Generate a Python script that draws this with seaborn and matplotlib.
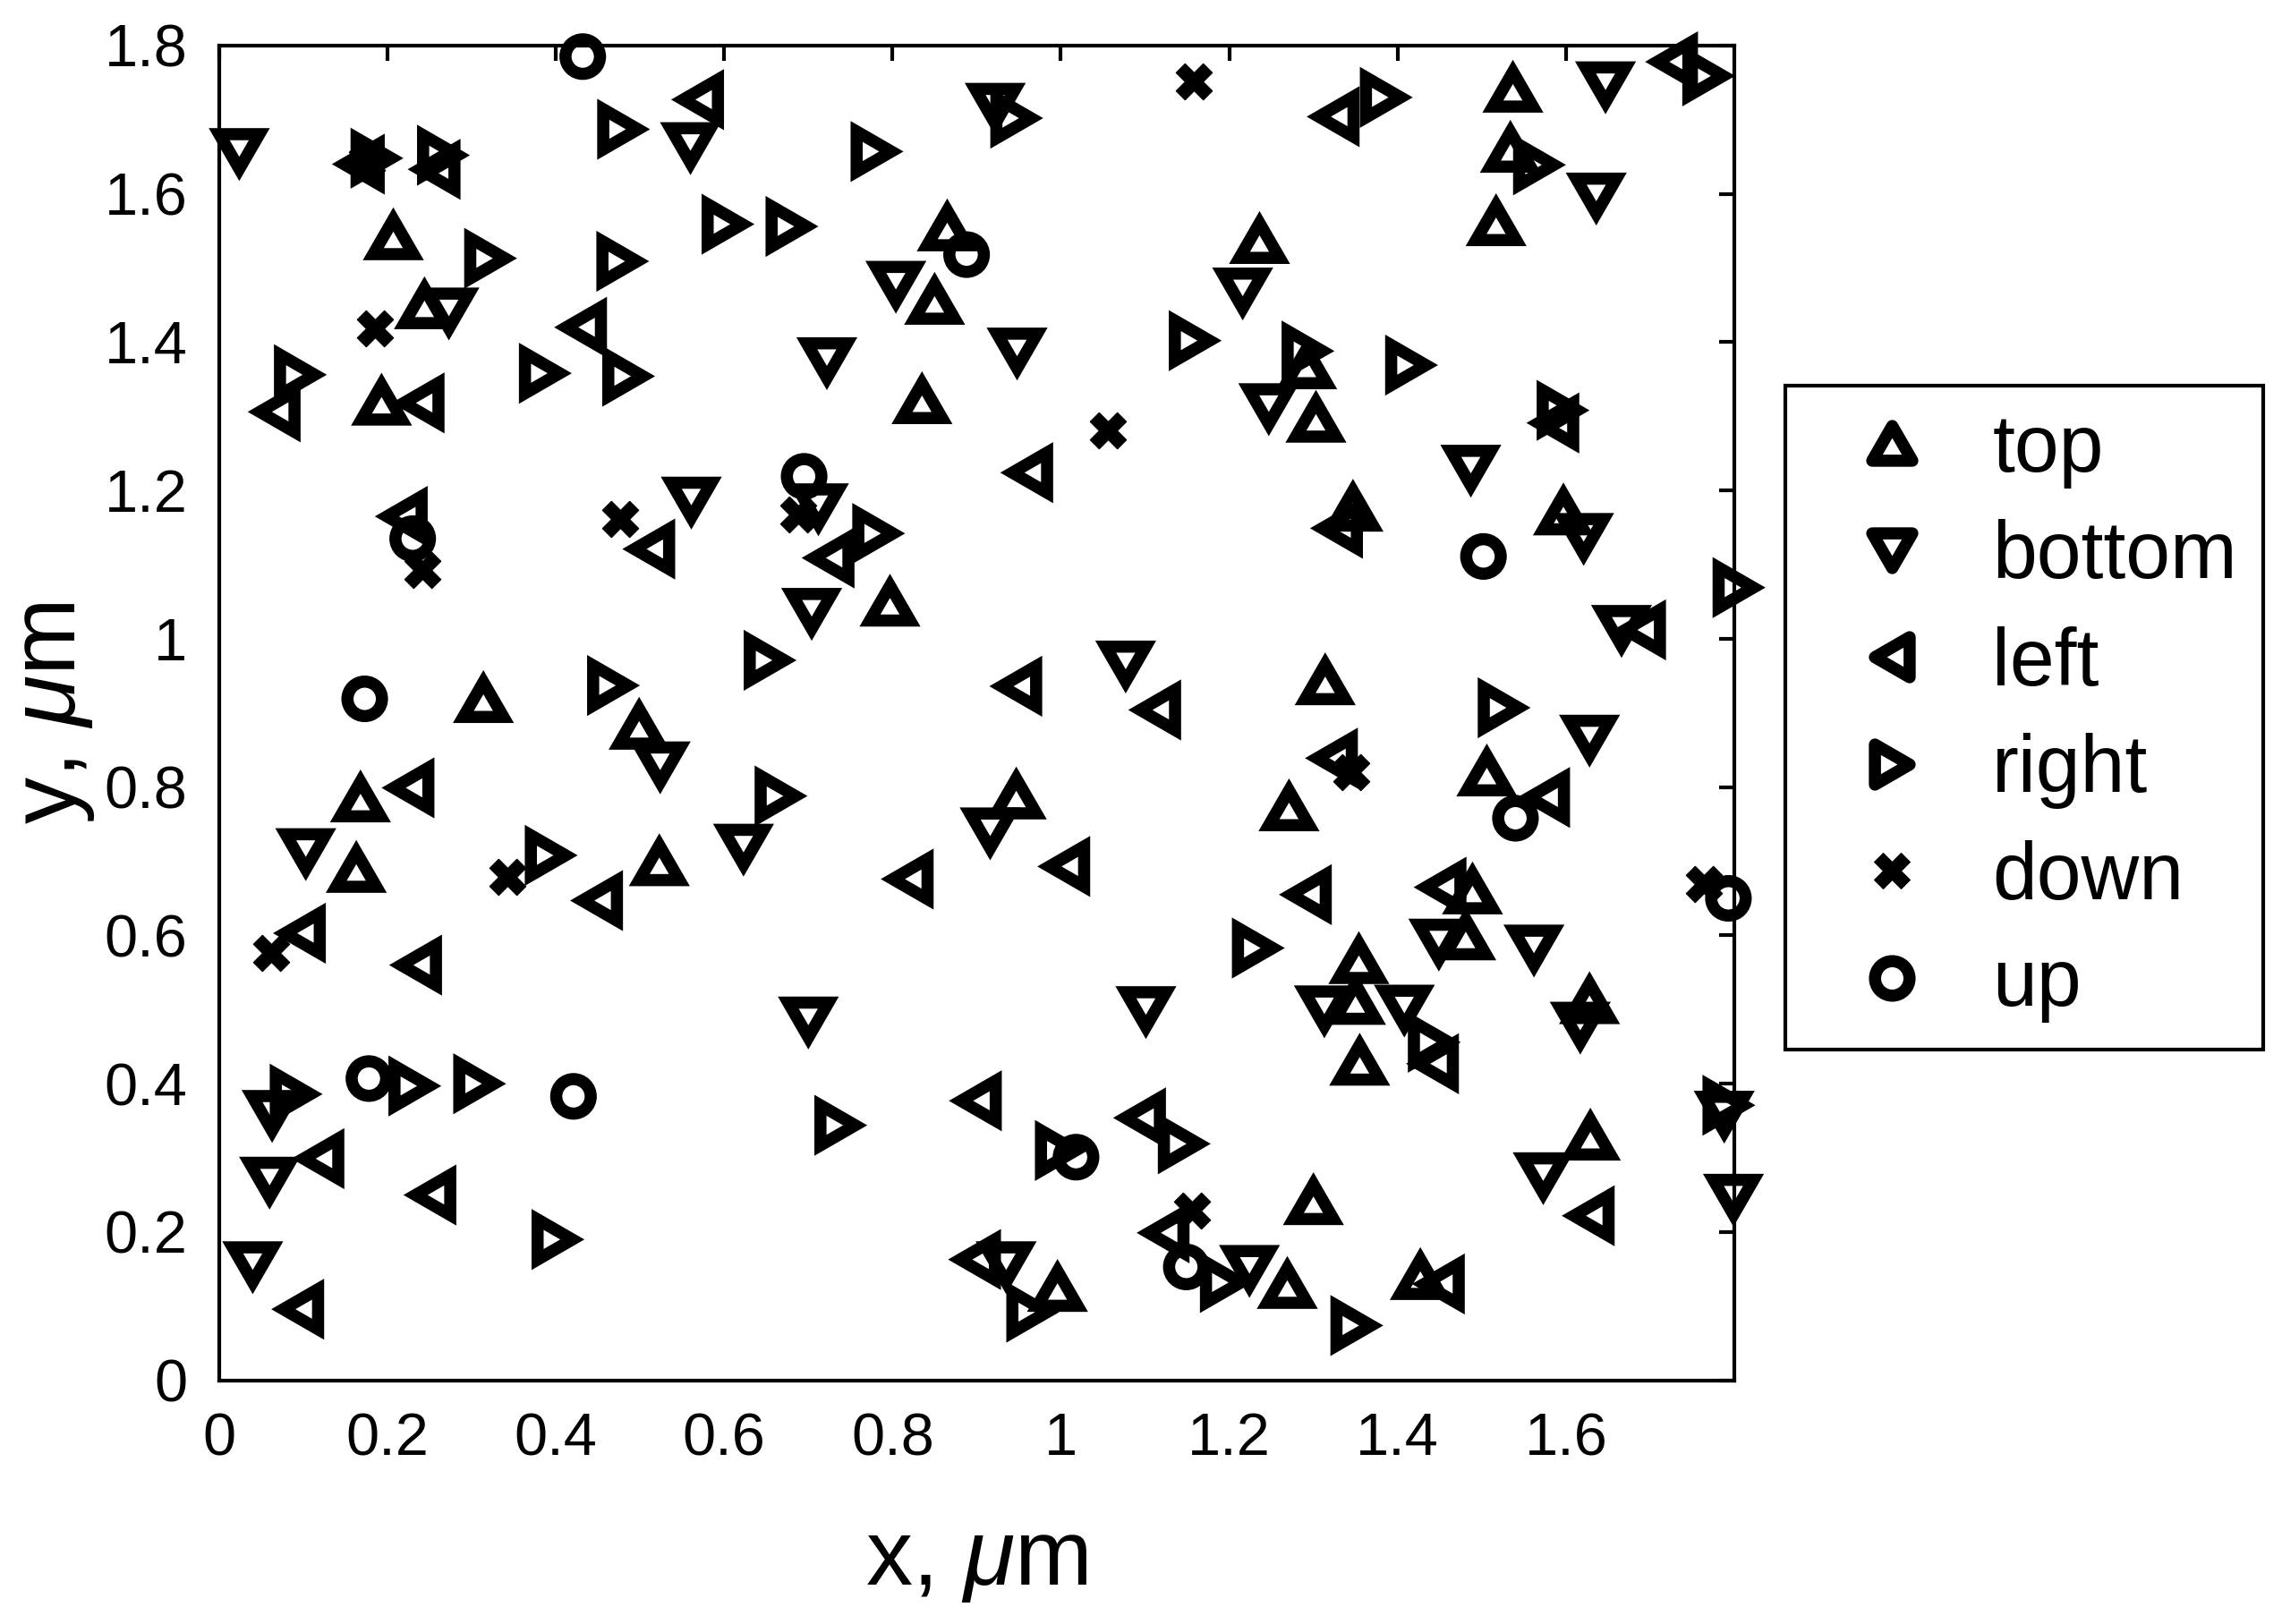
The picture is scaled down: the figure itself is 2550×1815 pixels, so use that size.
import matplotlib
matplotlib.use("Agg")
import matplotlib.pyplot as plt
import numpy as np
import seaborn as sns
from matplotlib.lines import Line2D
from matplotlib.markers import MarkerStyle
from matplotlib.path import Path

# marker positions (um)
top_x = [0.207, 0.244, 0.193, 0.865, 0.850, 0.835, 1.537, 1.534, 1.517, 1.236, 1.292, 1.303,
         0.314, 0.499, 0.168, 0.163, 0.523, 0.797, 0.947, 1.347, 1.597, 1.314, 1.506, 1.271,
         1.489, 1.481, 1.354, 1.350, 1.355, 1.628, 1.629, 1.300, 1.269, 1.427, 0.996]
top_y = [1.542, 1.449, 1.319, 1.554, 1.455, 1.321, 1.741, 1.660, 1.561, 1.537, 1.368, 1.296,
         0.918, 0.882, 0.784, 0.689, 0.698, 1.048, 0.788, 1.176, 1.171, 0.942, 0.819, 0.772,
         0.660, 0.598, 0.566, 0.511, 0.429, 0.512, 0.328, 0.241, 0.128, 0.140, 0.124]

bottom_x = [0.560, 0.024, 0.273, 0.922, 0.804, 0.948, 0.722, 1.647, 1.636, 1.216, 1.247, 1.487,
            0.561, 0.524, 0.103, 0.623, 0.712, 0.704, 1.077, 0.916, 1.621, 1.666, 1.628, 1.449,
            1.562, 1.313, 1.408, 1.617, 1.788, 1.573, 1.799, 1.224, 0.063, 0.060, 0.040, 0.700,
            1.101, 0.935]
bottom_y = [1.665, 1.657, 1.442, 1.718, 1.478, 1.388, 1.375, 1.747, 1.597, 1.469, 1.313, 1.230,
            1.187, 0.830, 0.713, 0.719, 1.178, 1.037, 0.966, 0.741, 1.138, 1.014, 0.866, 0.591,
            0.583, 0.501, 0.502, 0.479, 0.359, 0.276, 0.247, 0.151, 0.360, 0.270, 0.156, 0.486,
            0.500, 0.156]

left_x = [0.572, 0.169, 0.259, 0.433, 0.069, 0.240, 0.963, 1.327, 1.729, 1.588, 0.220, 0.514,
          0.228, 0.452, 0.727, 0.950, 1.115, 0.821, 1.007, 1.331, 1.691, 1.325, 1.577, 1.294,
          1.454, 1.445, 1.630, 1.452, 0.099, 0.237, 0.121, 0.254, 0.097, 0.902, 1.097, 1.125,
          0.901]
left_y = [1.727, 1.640, 1.633, 1.420, 1.306, 1.318, 1.224, 1.704, 1.778, 1.291, 1.165, 1.121,
          0.799, 0.647, 1.109, 0.936, 0.904, 0.676, 0.693, 1.149, 1.012, 0.839, 0.786, 0.655,
          0.665, 0.427, 0.222, 0.130, 0.603, 0.560, 0.299, 0.250, 0.096, 0.377, 0.354, 0.199,
          0.163]

right_x = [0.477, 0.184, 0.263, 0.319, 0.476, 0.601, 0.384, 0.483, 0.093, 0.944, 0.778, 0.677,
           1.156, 1.383, 1.766, 1.565, 1.290, 1.413, 1.593, 0.465, 0.391, 0.780, 0.651, 0.664,
           1.802, 1.523, 1.231, 1.440, 1.790, 1.348, 0.088, 0.229, 0.306, 0.399, 0.735, 0.997,
           1.143, 1.193, 0.963]
right_y = [1.687, 1.648, 1.652, 1.513, 1.509, 1.559, 1.358, 1.354, 1.356, 1.702, 1.657, 1.556,
           1.402, 1.730, 1.759, 1.639, 1.388, 1.369, 1.308, 0.937, 0.708, 1.142, 0.971, 0.788,
           1.069, 0.907, 0.583, 0.456, 0.371, 0.074, 0.386, 0.397, 0.400, 0.190, 0.344, 0.310,
           0.319, 0.132, 0.092]

down_x = [0.176, 0.185, 1.158, 1.056, 0.477, 0.242, 0.342, 0.688, 1.345, 1.764, 0.062, 1.156]
down_y = [1.644, 1.418, 1.751, 1.281, 1.162, 1.093, 0.679, 1.168, 0.820, 0.669, 0.576, 0.229]

up_x = [0.432, 0.888, 0.695, 0.230, 0.173, 1.502, 1.540, 1.793, 0.178, 0.421, 1.018, 1.149]
up_y = [1.785, 1.518, 1.219, 1.135, 0.919, 1.111, 0.758, 0.650, 0.407, 0.383, 0.301, 0.153]

labels = ["top", "bottom", "left", "right", "down", "up"]
x_ticks = [0, 0.2, 0.4, 0.6, 0.8, 1.0, 1.2, 1.4, 1.6]
y_ticks = [0, 0.2, 0.4, 0.6, 0.8, 1.0, 1.2, 1.4, 1.6, 1.8]

TRI_MS, TRI_LW = 21.5, 6.5
CIRC_MS, CIRC_LW = 18.5, 6.5
CROSS_MS = 19.5


def triangle(angle):
    """Closed equilateral triangle, apex pointing at `angle` degrees, bbox-centred."""
    h = np.sqrt(3) / 2
    pts = np.array([[0, h / 2], [-0.5, -h / 2], [0.5, -h / 2]])
    a = np.deg2rad(angle - 90)
    rot = np.array([[np.cos(a), -np.sin(a)], [np.sin(a), np.cos(a)]])
    pts = pts @ rot.T
    path = Path(np.vstack([pts, pts[:1]]), closed=True)
    return MarkerStyle(path, joinstyle="miter")


styles = {
    "top": dict(marker=triangle(90), ms=TRI_MS, lw=TRI_LW, fill=False),
    "bottom": dict(marker=triangle(270), ms=TRI_MS, lw=TRI_LW, fill=False),
    "left": dict(marker=triangle(180), ms=TRI_MS, lw=TRI_LW, fill=False),
    "right": dict(marker=triangle(0), ms=TRI_MS, lw=TRI_LW, fill=False),
    "down": dict(marker="X", ms=CROSS_MS, lw=0.5, fill=True),
    "up": dict(marker="o", ms=CIRC_MS, lw=CIRC_LW, fill=False),
}
points = {
    "top": (top_x, top_y), "bottom": (bottom_x, bottom_y),
    "left": (left_x, left_y), "right": (right_x, right_y),
    "down": (down_x, down_y), "up": (up_x, up_y),
}

sns.set_theme(style="white")
plt.rcParams["font.family"] = ["Liberation Sans", "DejaVu Sans"]
plt.rcParams["mathtext.fontset"] = "custom"
plt.rcParams["mathtext.it"] = "Liberation Sans:italic"
plt.rcParams["mathtext.rm"] = "Liberation Sans"
plt.rcParams["text.color"] = "black"
plt.rcParams["axes.labelcolor"] = "black"

fig = plt.figure(figsize=(17, 12.1), dpi=150)
ax = fig.add_axes([0.096, 0.150, 0.664, 0.822])

for name in labels:
    st = styles[name]
    xs, ys = points[name]
    sns.scatterplot(
        x=xs, y=ys, ax=ax, marker=st["marker"], s=st["ms"] ** 2,
        facecolor="black" if st["fill"] else "none", edgecolor="black",
        linewidth=st["lw"], joinstyle="miter", clip_on=False, zorder=3,
        legend=False,
    )

ax.set_xlim(0, 1.8)
ax.set_ylim(0, 1.8)
ax.set_xticks(x_ticks)
ax.set_yticks(y_ticks)
ax.set_xticklabels([f"{v:g}" for v in x_ticks])
ax.set_yticklabels([f"{v:g}" for v in y_ticks])
ax.tick_params(direction="in", length=8, width=2, top=True, right=True,
               labelsize=32, pad=17, colors="black")
for lab in ax.get_xticklabels() + ax.get_yticklabels():
    lab.set_fontfamily(["Liberation Sans Narrow", "Liberation Sans", "DejaVu Sans"])
for sp in ax.spines.values():
    sp.set_linewidth(2)
    sp.set_color("black")

ax.set_xlabel(r"x, $\mathit{\mu}$m", fontsize=50, labelpad=27)
ax.set_ylabel(r"y, $\mathit{\mu}$m", fontsize=50, labelpad=4)

handles = []
for name in labels:
    st = styles[name]
    handles.append(Line2D(
        [], [], ls="none", marker=st["marker"], ms=st["ms"],
        mew=st["lw"], mec="black",
        mfc="black" if st["fill"] else "none",
    ))
leg = ax.legend(
    handles, labels, loc="upper left", bbox_to_anchor=(0.7824, 0.7625),
    bbox_transform=fig.transFigure, borderaxespad=0, fontsize=43,
    frameon=True, fancybox=False, framealpha=1, edgecolor="black",
    borderpad=0.33, handlelength=2.0, handletextpad=0.25, labelspacing=0.385,
)
leg.get_frame().set_linewidth(2)

fig.savefig("out.png", dpi=150, facecolor="white")
